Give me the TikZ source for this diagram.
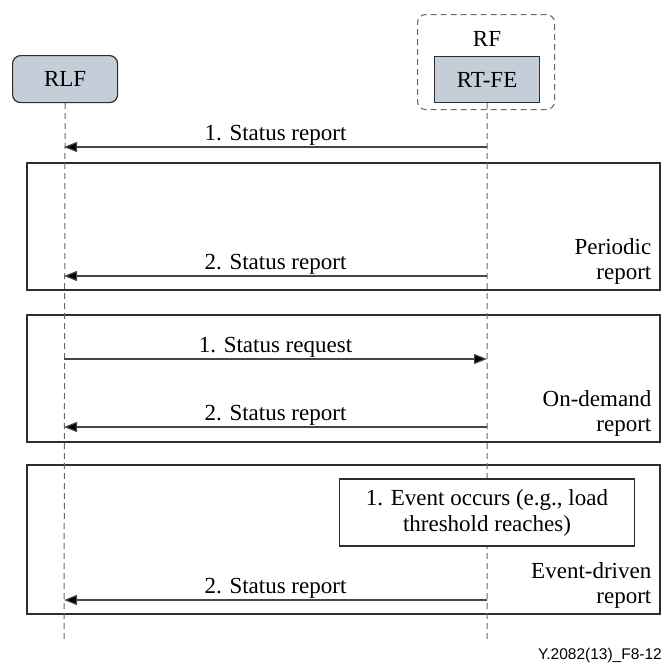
\documentclass[tikz,border=0pt]{standalone}
\usepackage{fontspec}
\setmainfont{Liberation Serif}
\newfontfamily\capfont{Liberation Sans}
\usetikzlibrary{arrows.meta,calc}
\definecolor{entityfill}{RGB}{197,205,216}
\definecolor{framegray}{RGB}{45,45,45}
\definecolor{linegray}{RGB}{70,70,70}
\definecolor{dashgray}{RGB}{105,105,105}
\begin{document}
\begin{tikzpicture}[x=1pt,y=-1pt,
  every node/.style={font=\fontsize{23}{25.5}\selectfont},
  entity/.style={draw=framegray,line width=1.2pt,fill=entityfill,inner sep=0pt},
  lifeline/.style={draw=dashgray,line width=1pt,dash pattern=on 6pt off 4pt},
  frame/.style={draw=framegray,line width=1.5pt,inner sep=0pt,minimum width=633pt,anchor=north west},
  msg/.style={draw=linegray,line width=1.2pt,-{Triangle[length=13pt,width=10pt,fill=black]}},
  msglabel/.style={midway,above=1.5pt,inner sep=0pt},
  framelabel/.style={align=right,anchor=south east,inner sep=0pt}]
\useasboundingbox (0,0) rectangle (663,664);

% participants
\node (rlf) [entity,rounded corners=8pt,minimum width=105pt,minimum height=47pt,anchor=north west] at (12,55) {RLF};
\node (rf) [draw=dashgray,line width=1.1pt,dash pattern=on 6pt off 4pt,rounded corners=8pt,
  minimum width=137pt,minimum height=95pt,anchor=north west] at (417,14) {};
\node (rflabel) at (487,39) {RF};
\node (rtfe) [entity,minimum width=105pt,minimum height=46pt,anchor=north west] at (434,56) {RT-FE};

% interaction frames
\node (per) [frame,minimum height=127pt] at (26,162) {};
\node (ond) [frame,minimum height=127pt] at (26,314) {};
\node (evt) [frame,minimum height=149pt] at (26,464) {};

% lifelines
\coordinate (lend) at (64,640);
\coordinate (rend) at (487,640);
\draw[lifeline] (rlf.south) -- (lend);
\draw[lifeline] (rtfe.south) -- (rend);

% event box sits on the RT-FE lifeline
\node (event) [draw=framegray,line width=1.3pt,fill=white,minimum width=295pt,minimum height=67pt,
  align=center,inner sep=0pt,font=\fontsize{23}{26}\selectfont] at (487,512.5) {1. Event occurs (e.g., load\\threshold reaches)};

% message end points on the lifelines
\coordinate (l1) at (64,147);  \coordinate (r1) at (487,147);
\coordinate (l2) at (64,276);  \coordinate (r2) at (487,276);
\coordinate (l3) at (64,359);  \coordinate (r3) at (487,359);
\coordinate (l4) at (64,427);  \coordinate (r4) at (487,427);
\coordinate (l5) at (64,600);  \coordinate (r5) at (487,600);

\draw[msg] (r1) -- node[msglabel] {1. Status report} (l1);
\draw[msg] (r2) -- node[msglabel] {2. Status report} (l2);
\draw[msg] (l3) -- node[msglabel] {1. Status request} (r3);
\draw[msg] (r4) -- node[msglabel] {2. Status report} (l4);
\draw[msg] (r5) -- node[msglabel] {2. Status report} (l5);

% frame titles
\node (perlabel) [framelabel] at ($(per.south east)+(-9,-5.5)$) {Periodic\\report};
\node (ondlabel) [framelabel] at ($(ond.south east)+(-9,-5.5)$) {On-demand\\report};
\node (evtlabel) [framelabel] at ($(evt.south east)+(-9,-5.5)$) {Event-driven\\report};

% figure reference
\node (figref) [anchor=base east,inner sep=0pt,font=\capfont\fontsize{15.5}{17}\selectfont] at (662,659) {Y.2082(13)\_F8-12};
\end{tikzpicture}
\end{document}
